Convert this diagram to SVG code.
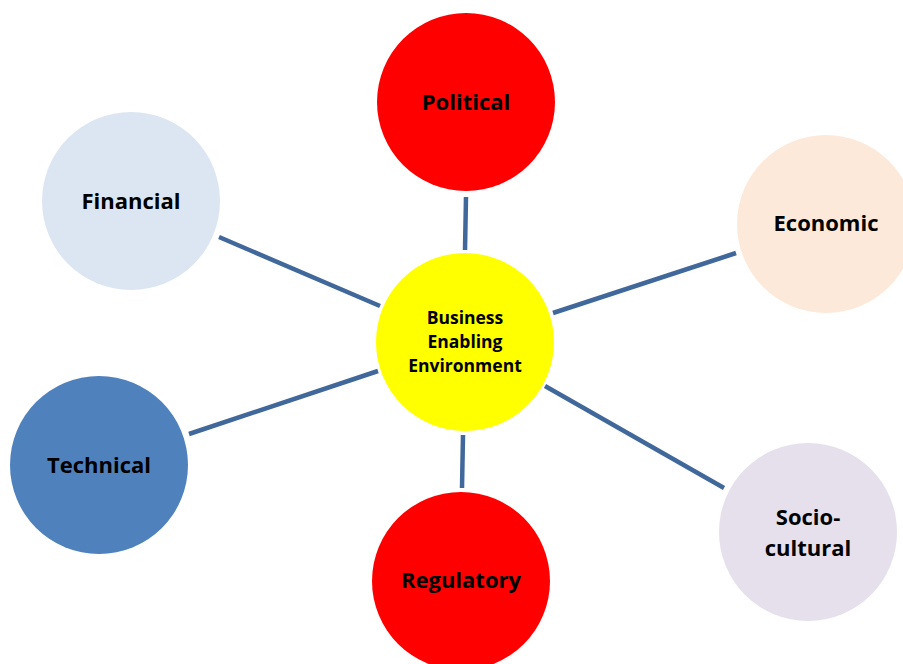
<svg xmlns="http://www.w3.org/2000/svg" width="903" height="664" viewBox="0 0 903 664">
<style>
.lbl{font-family:"Open Sans","Liberation Sans",sans-serif;font-weight:bold;font-size:22px;fill:#000;text-anchor:middle;dominant-baseline:central}
.sm{font-size:17.5px}
.conn line{stroke:#41689A;stroke-width:4.5}
</style>
<rect width="903" height="664" fill="#fff"/>
<g id="connectors" class="conn">
<line x1="466" y1="197" x2="465" y2="250"/>
<line x1="219" y1="237" x2="380" y2="306"/>
<line x1="736" y1="253" x2="553" y2="313"/>
<line x1="189" y1="434" x2="378" y2="371"/>
<line x1="463" y1="435" x2="462" y2="488"/>
<line x1="545" y1="386" x2="724" y2="488"/>
</g>
<g id="political"><circle cx="466" cy="102" r="89" fill="#FF0000"/><text class="lbl" x="466" y="101">Political</text></g>
<g id="financial"><circle cx="131" cy="201" r="89" fill="#DCE6F2"/><text class="lbl" x="131" y="200">Financial</text></g>
<g id="economic"><circle cx="826" cy="224" r="89" fill="#FDE9D9"/><text class="lbl" x="826" y="222">Economic</text></g>
<g id="center"><circle cx="465" cy="342" r="89" fill="#FFFF00"/><text class="lbl sm" x="465" y="317">Business</text><text class="lbl sm" x="465" y="341">Enabling</text><text class="lbl sm" x="465" y="365">Environment</text></g>
<g id="technical"><circle cx="99" cy="465" r="89" fill="#4F81BD"/><text class="lbl" x="99" y="464">Technical</text></g>
<g id="regulatory"><circle cx="461" cy="581" r="89" fill="#FF0000"/><text class="lbl" x="461" y="579">Regulatory</text></g>
<g id="sociocultural"><circle cx="808" cy="532" r="89" fill="#E5E0EC"/><text class="lbl" x="808" y="516">Socio-</text><text class="lbl" x="808" y="547">cultural</text></g>
</svg>
